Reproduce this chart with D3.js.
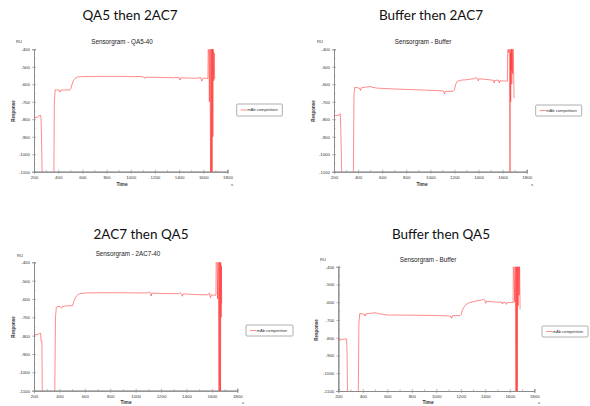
<!DOCTYPE html>
<html>
<head>
<meta charset="utf-8">
<script src="https://cdn.jsdelivr.net/npm/d3@7"></script>
<style>
  html, body { margin: 0; padding: 0; background: #ffffff; }
  svg { display: block; }
</style>
</head>
<body>
<svg id="chart" width="590" height="406"></svg>
<script>
// ---------------- DATA ----------------
const panelTitles = ["QA5 then 2AC7", "Buffer then 2AC7", "2AC7 then QA5", "Buffer then QA5"];
const chartTitles = ["Sensorgram - QA5-40", "Sensorgram - Buffer", "Sensorgram - 2AC7-40", "Sensorgram - Buffer"];
const seriesName = "mAb competition";
const timeTicks = [200, 400, 600, 800, 1000, 1200, 1400, 1600, 1800];
const responseTicks = [-400, -500, -600, -700, -800, -900, -1000, -1100];
const timeDomain = [200, 1800];
const responseDomain = [-1100, -400];

// Panel 1: QA5 then 2AC7
const qa5Then2ac7Time = [200, 230, 248, 252, 258, 262, 268, 364, 368, 375, 395, 410, 415, 422, 450, 497, 505, 515, 525, 540, 560, 600, 700, 800, 900, 1000, 1080, 1100, 1118, 1124, 1130, 1200, 1300, 1350, 1356, 1362, 1400, 1408, 1415, 1450, 1500, 1560, 1575, 1588, 1595, 1620, 1638,
  1641, 1645, 1650, 1655, 1660, 1664, 1667, 1670, 1673, 1676, 1679, 1682, 1686, 1690, 1694];
const qa5Then2ac7Resp = [-790, -788, -778, -776, -790, -900, -1150, -1150, -700, -632, -632, -636, -645, -633, -633, -632, -625, -600, -580, -566, -558, -556, -555, -555, -555, -556, -556, -557, -566, -558, -560, -560, -562, -562, -566, -561, -562, -576, -563, -564, -565, -565, -560, -582, -566, -566, -566,
  -350, -350, -700, -350, -1150, -350, -1150, -350, -1150, -350, -900, -380, -580, -420, -570];

// Panel 2: Buffer then 2AC7
const bufferThen2ac7Time = [200, 240, 248, 252, 256, 265, 360, 366, 372, 400, 415, 420, 428, 460, 500, 515, 560, 700, 900, 1050, 1100, 1110, 1118, 1125, 1190, 1200, 1210, 1225, 1260, 1300, 1360, 1380, 1390, 1398, 1405, 1450, 1500, 1525, 1530, 1535, 1565, 1572, 1578, 1630, 1640,
  1643, 1647, 1652, 1656, 1660, 1663, 1665, 1667, 1669, 1671, 1673, 1676, 1679, 1683, 1687, 1691, 1695];
const bufferThen2ac7Resp = [-780, -777, -768, -770, -850, -1150, -1150, -660, -618, -620, -625, -635, -620, -617, -612, -617, -622, -627, -632, -636, -638, -640, -655, -640, -640, -632, -600, -582, -576, -574, -568, -563, -566, -580, -568, -572, -575, -578, -592, -578, -576, -592, -580, -582, -582,
  -350, -350, -420, -380, -1150, -1150, -420, -700, -380, -520, -360, -600, -380, -540, -380, -500, -680];

// Panel 3: 2AC7 then QA5
const ac7ThenQa5Time = [200, 230, 245, 252, 256, 262, 266, 363, 369, 376, 383, 410, 418, 425, 470, 504, 515, 530, 549, 580, 615, 700, 800, 900, 1000, 1090, 1105, 1115, 1122, 1128, 1200, 1300, 1340, 1348, 1360, 1368, 1375, 1450, 1520, 1570, 1580, 1588, 1596, 1625, 1632,
  1634, 1640, 1645, 1650, 1656, 1659, 1662, 1665, 1668, 1670, 1673, 1675, 1677];
const ac7ThenQa5Resp = [-796, -793, -787, -787, -830, -830, -1150, -1150, -700, -645, -640, -643, -650, -640, -637, -636, -610, -588, -574, -569, -567, -566, -566, -566, -567, -567, -561, -566, -584, -568, -570, -571, -571, -565, -572, -585, -572, -575, -577, -577, -568, -592, -578, -579, -579,
  -350, -350, -600, -350, -1150, -350, -1150, -350, -1150, -400, -700, -420, -625];

// Panel 4: Buffer then QA5
const bufferThenQa5Time = [200, 230, 241, 268, 272, 276, 363, 368, 375, 400, 412, 418, 425, 460, 500, 520, 560, 600, 800, 1000, 1100, 1118, 1125, 1132, 1195, 1202, 1210, 1225, 1245, 1270, 1330, 1370, 1384, 1395, 1403, 1410, 1450, 1500, 1535, 1540, 1548, 1565, 1572, 1580, 1620, 1627,
  1629, 1633, 1640, 1645, 1650, 1653, 1656, 1659, 1661, 1664, 1668, 1672, 1676, 1680, 1684];
const bufferThenQa5Resp = [-813, -810, -807, -807, -900, -1150, -1150, -720, -664, -666, -668, -678, -665, -663, -659, -663, -668, -672, -673, -675, -677, -680, -691, -676, -675, -670, -650, -628, -612, -603, -592, -588, -582, -590, -606, -595, -597, -600, -600, -610, -600, -602, -612, -602, -602, -603,
  -350, -350, -600, -350, -1150, -350, -1150, -350, -1150, -380, -620, -380, -560, -380, -640];

const seriesTimes = [qa5Then2ac7Time, bufferThen2ac7Time, ac7ThenQa5Time, bufferThenQa5Time];
const seriesResps = [qa5Then2ac7Resp, bufferThen2ac7Resp, ac7ThenQa5Resp, bufferThenQa5Resp];

// ---------------- LAYOUT ----------------
const layouts = [
  { x0: 34, x1: 227.5, yt: 49.3, yb: 171.7, ct: [122, 44], mt: [130, 20], ru: [19, 43], resp: [15, 111], time: [122, 186], s: [232, 186], leg: [236.7, 104, 45.6, 12] },
  { x0: 334, x1: 526.7, yt: 49.3, yb: 171.7, ct: [423, 44], mt: [431, 20], ru: [320, 43], resp: [315, 111], time: [422, 186], s: [532, 186], leg: [535.7, 105, 46, 11] },
  { x0: 34, x1: 237.3, yt: 262.3, yb: 390.7, ct: [128, 256], mt: [141, 239], ru: [20, 257], resp: [15, 327], time: [126, 404], s: [243, 404], leg: [246, 325, 47, 11] },
  { x0: 338.3, x1: 534.3, yt: 266.7, yb: 391, ct: [428, 262], mt: [441, 239], ru: [323, 261], resp: [318, 330], time: [428, 404], s: [539, 404], leg: [542, 326, 46, 11] }
];

const svg = d3.select("#chart");
const lineColor = "#ff3030";
const axisColor = "#8a8a8a";
const labelFont = "Liberation Sans, Arial, sans-serif";
const fmt = d => String(d);

layouts.forEach((L, i) => {
  const g = svg.append("g");
  const x = d3.scaleLinear().domain(timeDomain).range([L.x0, L.x1]);
  const y = d3.scaleLinear().domain(responseDomain).range([L.yb, L.yt]);

  // Main slide title
  g.append("text").attr("x", L.mt[0]).attr("y", L.mt[1])
    .attr("text-anchor", "middle").attr("font-family", "Lato, 'Open Sans', sans-serif")
    .attr("font-size", 13.5).attr("fill", "#111").text(panelTitles[i]);

  // Chart title
  g.append("text").attr("x", L.ct[0]).attr("y", L.ct[1])
    .attr("text-anchor", "middle").attr("font-family", labelFont)
    .attr("font-size", 6.3).attr("fill", "#222").text(chartTitles[i]);

  // clip
  const clipId = "clip" + i;
  svg.append("clipPath").attr("id", clipId).append("rect")
    .attr("x", L.x0).attr("y", L.yt).attr("width", L.x1 - L.x0).attr("height", L.yb - L.yt);

  // Y axis
  const yAxis = d3.axisLeft(y).tickValues(responseTicks).tickSize(2).tickPadding(2).tickFormat(fmt);
  g.append("g").attr("transform", `translate(${L.x0},0)`).call(yAxis);
  const yMinor = d3.axisRight(y).tickValues(d3.range(-1050, -400, 100)).tickSize(1.5).tickFormat("");
  g.append("g").attr("transform", `translate(${L.x0},0)`).call(yMinor);
  const yMajorRight = d3.axisRight(y).tickValues(responseTicks).tickSize(2).tickFormat("");
  g.append("g").attr("transform", `translate(${L.x0},0)`).call(yMajorRight);

  // X axis
  const xAxis = d3.axisBottom(x).tickValues(timeTicks).tickSize(2).tickPadding(2).tickFormat(fmt);
  g.append("g").attr("transform", `translate(0,${L.yb})`).call(xAxis);
  const xMinor = d3.axisTop(x).tickValues(d3.range(300, 1800, 200)).tickSize(1.5).tickFormat("");
  g.append("g").attr("transform", `translate(0,${L.yb})`).call(xMinor);
  const xMajorTop = d3.axisTop(x).tickValues(timeTicks).tickSize(2).tickFormat("");
  g.append("g").attr("transform", `translate(0,${L.yb})`).call(xMajorTop);

  g.selectAll(".domain").attr("stroke", axisColor).attr("stroke-width", 0.8);
  g.selectAll(".tick line").attr("stroke", axisColor).attr("stroke-width", 0.6);
  g.selectAll(".tick text").attr("font-family", labelFont).attr("font-size", 4.4).attr("fill", "#333");

  // Axis labels
  g.append("text").attr("x", L.ru[0]).attr("y", L.ru[1]).attr("text-anchor", "middle")
    .attr("font-family", labelFont).attr("font-size", 4).attr("fill", "#333").text("RU");
  g.append("text").attr("transform", `translate(${L.resp[0]},${L.resp[1]}) rotate(-90)`)
    .attr("text-anchor", "middle").attr("font-family", labelFont).attr("font-weight", "bold")
    .attr("font-size", 4.5).attr("fill", "#333").text("Response");
  g.append("text").attr("x", L.time[0]).attr("y", L.time[1]).attr("text-anchor", "middle")
    .attr("font-family", labelFont).attr("font-weight", "bold").attr("font-size", 4.8).attr("fill", "#333").text("Time");
  g.append("text").attr("x", L.s[0]).attr("y", L.s[1]).attr("text-anchor", "middle")
    .attr("font-family", labelFont).attr("font-size", 4).attr("fill", "#333").text("s");

  // Series line
  const pts = seriesTimes[i].map((t, k) => [t, seriesResps[i][k]]);
  const line = d3.line().x(d => x(d[0])).y(d => y(d[1]));
  g.append("path").attr("clip-path", `url(#${clipId})`).datum(pts)
    .attr("d", line).attr("fill", "none").attr("stroke", lineColor)
    .attr("stroke-width", 0.8).attr("stroke-opacity", 0.7).attr("stroke-linejoin", "round");

  // Legend
  const [lx, ly, lw, lh] = L.leg;
  g.append("rect").attr("x", lx).attr("y", ly).attr("width", lw).attr("height", lh)
    .attr("fill", "#fff").attr("stroke", "#999").attr("stroke-width", 0.8).attr("rx", 1);
  g.append("line").attr("x1", lx + 4).attr("x2", lx + 10).attr("y1", ly + lh / 2).attr("y2", ly + lh / 2)
    .attr("stroke", lineColor).attr("stroke-width", 0.8).attr("stroke-opacity", 0.7);
  g.append("text").attr("x", lx + 10.5).attr("y", ly + lh / 2 + 1.4)
    .attr("font-family", labelFont).attr("font-size", 4.1).attr("fill", "#333").text(seriesName);
});
</script>
</body>
</html>
